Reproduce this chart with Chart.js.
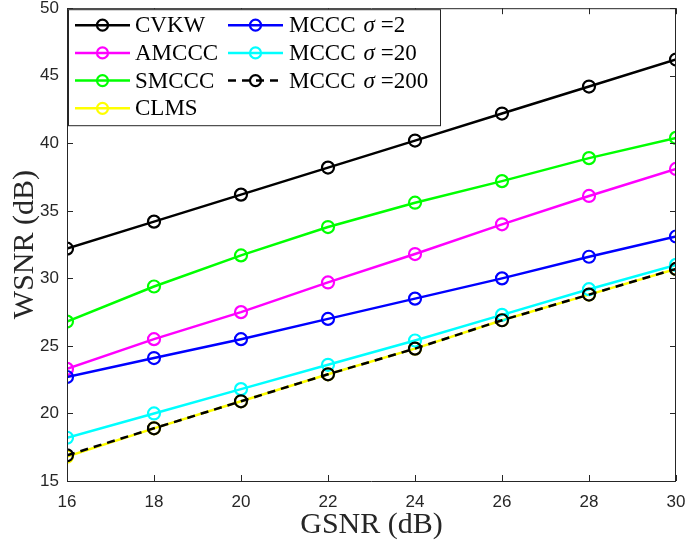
<!DOCTYPE html>
<html>
<head>
<meta charset="utf-8">
<script src="https://cdn.jsdelivr.net/npm/chart.js@4.4.0/dist/chart.umd.min.js"></script>
<style>
html,body{margin:0;padding:0;background:#fff;}
#wrap{width:685px;height:546px;position:relative;}
</style>
</head>
<body>
<div id="wrap"><canvas id="c" width="685" height="546"></canvas></div>
<script>
const gsnr = [16, 18, 20, 22, 24, 26, 28, 30];
const cvkw   = [32.2, 34.2, 36.2, 38.2, 40.2, 42.2, 44.2, 46.2];
const amccc  = [23.3, 25.5, 27.5, 29.7, 31.8, 34.0, 36.1, 38.1];
const smccc  = [26.8, 29.4, 31.7, 33.8, 35.6, 37.2, 38.9, 40.4];
const clms   = [16.8, 18.9, 20.9, 22.9, 24.8, 26.9, 28.8, 30.7];
const mccc2  = [22.7, 24.1, 25.5, 27.0, 28.5, 30.0, 31.6, 33.1];
const mccc20 = [18.2, 20.0, 21.8, 23.6, 25.4, 27.3, 29.2, 31.0];
const mccc200= [16.9, 18.9, 20.9, 22.9, 24.8, 26.9, 28.8, 30.7];
const seriesNames = ['CVKW', 'AMCCC', 'SMCCC', 'CLMS', 'MCCC σ =2', 'MCCC σ =20', 'MCCC σ =200'];
const yTicks = [15, 20, 25, 30, 35, 40, 45, 50];

const colors = ['#000000', '#ff00ff', '#00ff00', '#ffff00', '#0000ff', '#00ffff', '#000000'];
const dashes = [[], [], [], [], [], [], [8, 6]];
const allData = [cvkw, amccc, smccc, clms, mccc2, mccc20, mccc200];

const datasets = allData.map((d, i) => ({
  label: seriesNames[i],
  data: d.map((v, k) => ({x: gsnr[k], y: v})),
  borderColor: colors[i],
  backgroundColor: 'rgba(0,0,0,0)',
  pointBackgroundColor: 'rgba(0,0,0,0)',
  pointBorderColor: colors[i],
  pointRadius: 6,
  pointBorderWidth: 2.2,
  borderWidth: 2.5,
  borderDash: dashes[i],
  order: allData.length - i,
  tension: 0
}));

const AXC = '#262626';

const boxTicks = {
  id: 'boxTicks',
  afterDatasetsDraw(chart) {
    const {ctx, chartArea: a, scales: {x, y}} = chart;
    ctx.save();
    ctx.strokeStyle = AXC;
    ctx.lineWidth = 1;
    ctx.beginPath();
    ctx.rect(a.left + 0.5, a.top + 0.5, a.right - a.left - 1, a.bottom - a.top);
    ctx.stroke();
    const L = 6;
    ctx.beginPath();
    x.ticks.forEach(t => {
      const px = Math.round(x.getPixelForValue(t.value)) + 0.5;
      ctx.moveTo(px, a.bottom); ctx.lineTo(px, a.bottom - L);
      ctx.moveTo(px, a.top); ctx.lineTo(px, a.top + L);
    });
    y.ticks.forEach(t => {
      const py = Math.round(y.getPixelForValue(t.value)) + 0.5;
      ctx.moveTo(a.left, py); ctx.lineTo(a.left + L, py);
      ctx.moveTo(a.right, py); ctx.lineTo(a.right - L, py);
    });
    ctx.stroke();
    ctx.restore();
  }
};

const customLegend = {
  id: 'customLegend',
  afterDraw(chart) {
    const ctx = chart.ctx;
    const a = chart.chartArea;
    const bx = a.left + 1, by = a.top + 1, bw = 372, bh = 116;
    ctx.save();
    ctx.fillStyle = '#fff';
    ctx.fillRect(bx, by, bw, bh);
    ctx.strokeStyle = AXC;
    ctx.lineWidth = 1;
    ctx.strokeRect(bx + 0.5, by + 0.5, bw, bh);
    const rowH = 27.7;
    const cols = [{lx: bx + 7, tx: bx + 67}, {lx: bx + 160, tx: bx + 221}];
    const layout = [[0,0],[0,1],[0,2],[0,3],[1,0],[1,1],[1,2]];
    const F = '23px "Liberation Serif"';
    const FI = 'italic 23px "Liberation Serif"';
    chart.data.datasets.forEach((ds, i) => {
      const [c, r] = layout[i];
      const cy = by + 16 + r * rowH;
      const lx = cols[c].lx;
      ctx.strokeStyle = ds.borderColor;
      ctx.lineWidth = 2.5;
      ctx.setLineDash(ds.borderDash || []);
      ctx.beginPath(); ctx.moveTo(lx, cy); ctx.lineTo(lx + 55, cy); ctx.stroke();
      ctx.setLineDash([]);
      ctx.lineWidth = 2.2;
      ctx.beginPath(); ctx.arc(lx + 27.5, cy, 5.5, 0, Math.PI * 2); ctx.stroke();
      ctx.fillStyle = '#000';
      ctx.textBaseline = 'middle';
      const label = ds.label;
      const idx = label.indexOf('σ');
      let x0 = cols[c].tx;
      const ty = cy + 1;
      if (idx < 0) {
        ctx.font = F;
        ctx.fillText(label, x0, ty);
      } else {
        const pre = label.slice(0, idx).trimEnd();
        const post = label.slice(idx + 1).trim();
        ctx.font = F;
        ctx.fillText(pre, x0, ty);
        x0 += ctx.measureText(pre).width + 8;
        ctx.font = FI;
        ctx.fillText('σ', x0, ty);
        x0 += ctx.measureText('σ').width + 6;
        ctx.font = F;
        ctx.fillText(post, x0, ty);
      }
    });
    ctx.restore();
  }
};

new Chart(document.getElementById('c'), {
  type: 'line',
  data: { datasets },
  options: {
    responsive: false,
    animation: false,
    devicePixelRatio: 1,
    layout: { padding: { top: 6, right: 9, left: 0, bottom: 0 } },
    plugins: { legend: { display: false }, tooltip: { enabled: false } },
    scales: {
      x: {
        type: 'linear',
        min: 16, max: 30,
        afterBuildTicks: s => { s.ticks = gsnr.map(v => ({value: v})); },
        afterFit: s => { s.height = 65; s.paddingLeft = 0; s.paddingRight = 0; },
        grid: { display: false, drawTicks: false },
        border: { display: false },
        ticks: { color: AXC, font: { family: 'Liberation Sans', size: 17 }, padding: 11, maxRotation: 0 },
        title: { display: true, text: 'GSNR (dB)', color: AXC, font: { family: 'Liberation Serif', size: 30 }, padding: { top: 0, bottom: 3 } }
      },
      y: {
        type: 'linear',
        min: 15, max: 50,
        afterBuildTicks: s => { s.ticks = yTicks.map(v => ({value: v})); },
        afterFit: s => { s.width = 67; s.paddingTop = 0; s.paddingBottom = 0; },
        grid: { display: false, drawTicks: false },
        border: { display: false },
        ticks: { color: AXC, font: { family: 'Liberation Sans', size: 17 }, padding: 8 },
        title: { display: true, text: 'WSNR (dB)', color: AXC, font: { family: 'Liberation Serif', size: 30 }, padding: { top: 7, bottom: 2 } }
      }
    }
  },
  plugins: [boxTicks, customLegend]
});
</script>
</body>
</html>
